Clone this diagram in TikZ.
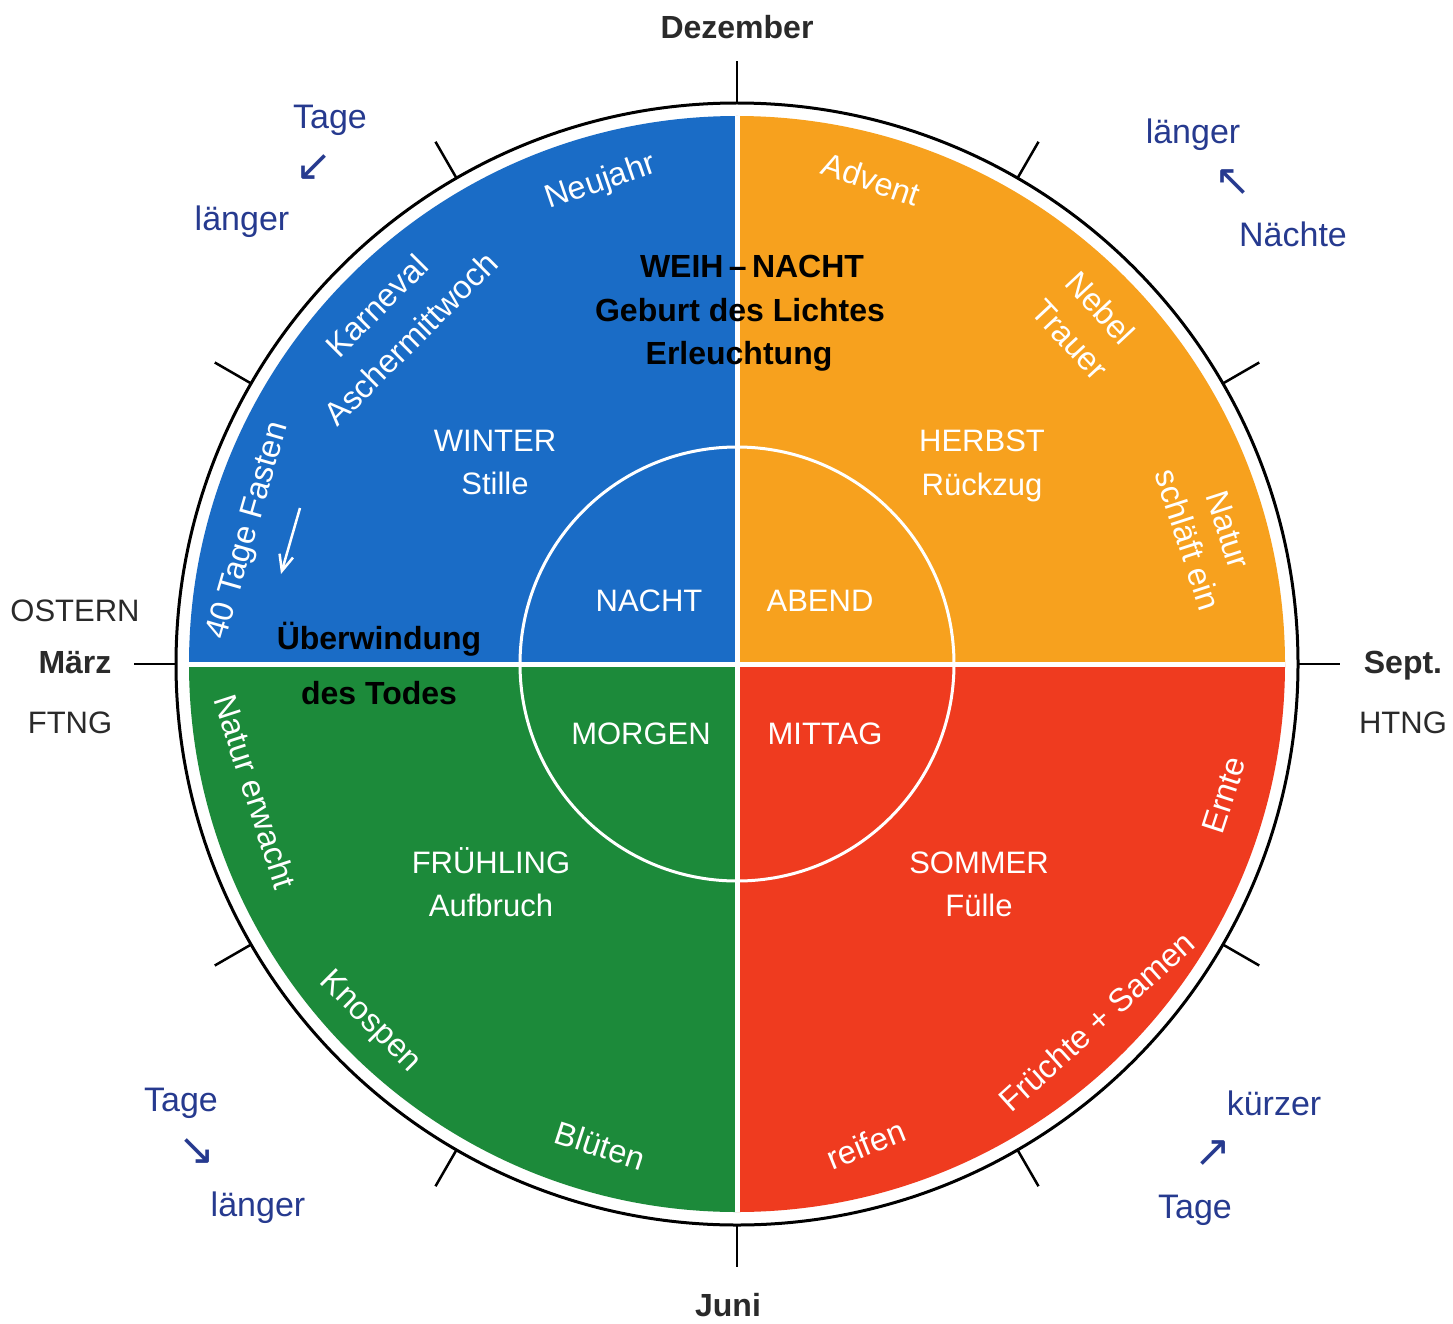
\documentclass[tikz,border=0pt]{standalone}
\usepackage{fontspec}
\setmainfont{Liberation Sans}
\newfontfamily\symfont{DejaVu Sans}
\usetikzlibrary{arrows.meta,calc}
\definecolor{qblue}{HTML}{1A6CC6}
\definecolor{qorange}{HTML}{F7A11E}
\definecolor{qred}{HTML}{EF3B1F}
\definecolor{qgreen}{HTML}{1C8A3A}
\definecolor{navy}{HTML}{263A8F}
\definecolor{outer}{HTML}{2A2A2A}
\begin{document}
\begin{tikzpicture}[x=1pt,y=-1pt,
  lbl/.style={inner sep=0pt, text height=22pt, text depth=0pt, font=\fontsize{31}{31}\selectfont},
  wlbl/.style={lbl, text=white},
  rlbl/.style={lbl, text=white, font=\fontsize{32.5}{32.5}\selectfont},
  blbl/.style={lbl, text=black, font=\fontsize{32}{32}\selectfont\bfseries},
  olbl/.style={lbl, text=outer},
  obold/.style={lbl, text=outer, font=\fontsize{32}{32}\selectfont\bfseries},
  nlbl/.style={lbl, text=navy, font=\fontsize{34}{34}\selectfont},
  narrow/.style={inner sep=0pt, text=navy, font=\fontsize{44}{44}\selectfont\symfont}]
\fill[white] (0,0) rectangle (1453,1324);
\useasboundingbox (0,0) rectangle (1453,1324);
\coordinate (C) at (737,664);
\coordinate (vt) at (737,100);
\coordinate (vb) at (737,1230);
\coordinate (hl) at (170,664);
\coordinate (hr) at (1310,664);
% quadrants
\begin{scope}
\clip (C) circle (548pt);
\fill[qblue] (C) rectangle (180,110);
\fill[qorange] (C) rectangle (1300,110);
\fill[qgreen] (C) rectangle (180,1230);
\fill[qred] (C) rectangle (1300,1230);
\draw[white,line width=5pt] (vt) -- (vb);
\draw[white,line width=5pt] (hl) -- (hr);
\end{scope}
\draw[white,line width=3pt] (C) circle (217pt);
\draw[black,line width=3pt] (C) circle (561pt);
\foreach \a in {0,30,...,330}
  \draw[black,line width=2.5pt] ($(C)+(\a:561pt)$) -- ($(C)+(\a:603pt)$);
% outside labels
\node[obold] (dez) at (737,28) {Dezember};
\node[olbl] (ost) at (75,610) {OSTERN};
\node[obold] (mar) at (75,662) {März};
\node[olbl] (ftng) at (70,722) {FTNG};
\node[obold] (sep) at (1403,662) {Sept.};
\node[olbl] (htng) at (1403,722) {HTNG};
\node[obold] (jun) at (728,1305) {Juni};
% blue corner labels
\node[nlbl] (tl1) at (330,118) {Tage};
\node[narrow] (tla) at (314,168) {↙};
\node[nlbl] (tl2) at (242,220) {länger};
\node[nlbl] (tr1) at (1193,133) {länger};
\node[narrow] (tra) at (1233,183) {↖};
\node[nlbl] (tr2) at (1293,236) {Nächte};
\node[nlbl] (bl1) at (181,1100) {Tage};
\node[narrow] (bla) at (197,1152) {↘};
\node[nlbl] (bl2) at (258,1205) {länger};
\node[nlbl] (br1) at (1274,1104) {kürzer};
\node[narrow] (bra) at (1213,1154) {↗};
\node[nlbl] (br2) at (1195,1207) {Tage};
% center black text
\node[blbl] (weih) at (752,267) {WEIH\,–\,NACHT};
\node[blbl] (geb) at (740,310) {Geburt des Lichtes};
\node[blbl] (erl) at (739,353) {Erleuchtung};
\node[blbl] (ueb) at (379,638) {Überwindung};
\node[blbl] (tod) at (379,693) {des Todes};
% seasons
\node[wlbl] (win) at (495,440) {WINTER};
\node[wlbl] (sti) at (495,483) {Stille};
\node[wlbl] (her) at (982,440) {HERBST};
\node[wlbl] (rue) at (982,484) {Rückzug};
\node[wlbl] (fru) at (491,862) {FRÜHLING};
\node[wlbl] (auf) at (491,905) {Aufbruch};
\node[wlbl] (som) at (979,862) {SOMMER};
\node[wlbl] (fue) at (979,905) {Fülle};
\node[wlbl] (nac) at (649,600) {NACHT};
\node[wlbl] (abe) at (820,600) {ABEND};
\node[wlbl] (mor) at (641,733) {MORGEN};
\node[wlbl] (mit) at (825,733) {MITTAG};
% rotated labels
\node[rlbl,rotate=19] (neu) at (600,180) {Neujahr};
\node[rlbl,rotate=-19] (adv) at (871,180) {Advent};
\node[rlbl,rotate=45] (kar) at (377,306) {Karneval};
\node[rlbl,rotate=45] (asc) at (411,339) {Aschermittwoch};
\node[rlbl,rotate=74] (fas) at (246,530) {40 Tage Fasten};
\node[rlbl,rotate=-47] (neb) at (1100,308) {Nebel};
\node[rlbl,rotate=-47] (tra2) at (1070,340) {Trauer};
\node[rlbl,rotate=-72] (nat) at (1228,530) {Natur};
\node[rlbl,rotate=-72] (sch) at (1188,540) {schläft ein};
\node[rlbl,rotate=-72] (erw) at (255,792) {Natur erwacht};
\node[rlbl,rotate=-45] (kno) at (372,1020) {Knospen};
\node[rlbl,rotate=-18] (blu) at (600,1146) {Blüten};
\node[rlbl,rotate=22] (rei) at (866,1145) {reifen};
\node[rlbl,rotate=42] (fr) at (1097,1022) {Früchte + Samen};
\node[rlbl,rotate=72] (ern) at (1224,795) {Ernte};
% white arrow
\coordinate (wa1) at (300,508);
\coordinate (wa2) at (281,574);
\draw[white,line width=2.5pt,-{Straight Barb[length=16pt,width=14pt]}] (wa1) -- (wa2);
\end{tikzpicture}
\end{document}
